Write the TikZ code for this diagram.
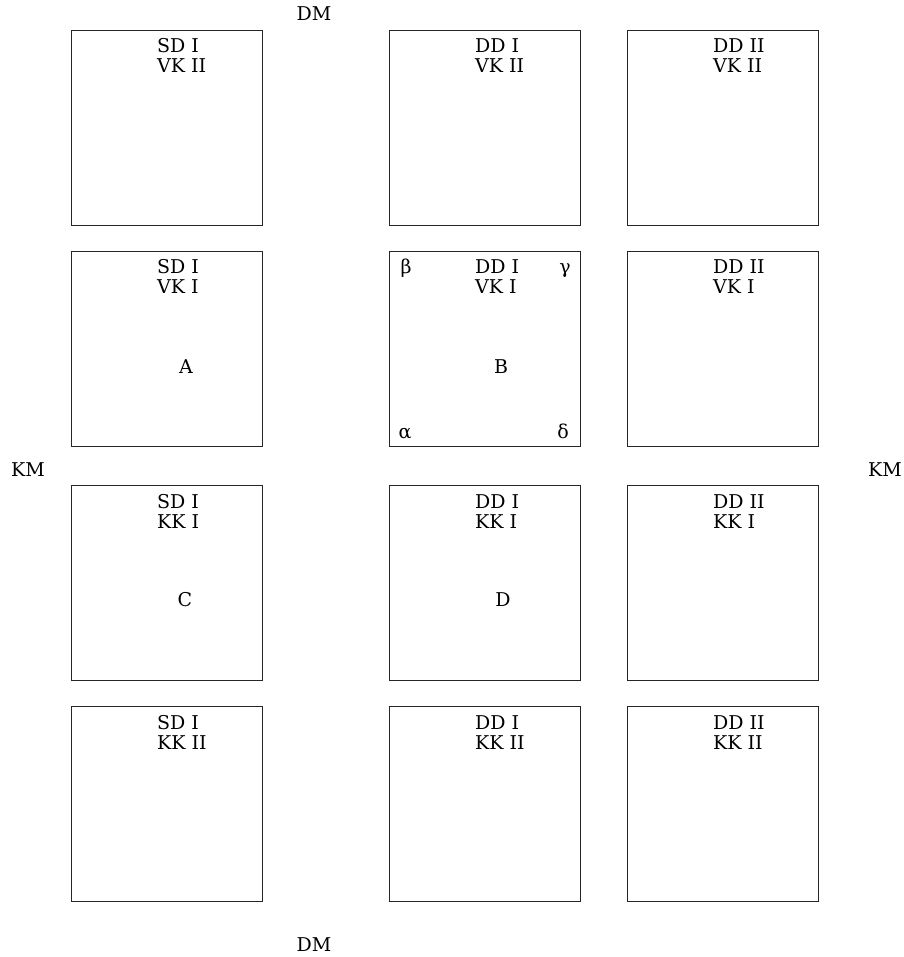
\documentclass[tikz,border=0pt]{standalone}
\usepackage{fontspec}
\setmainfont{DejaVu Serif}
\begin{document}
\begin{tikzpicture}[x=1pt,y=-1pt,
  cell/.style={draw=black!85,line width=1.1pt,minimum width=191pt,minimum height=195pt,inner sep=0pt,anchor=north west},
  lbl/.style={anchor=base west,inner sep=0pt,font=\fontsize{19}{20}\selectfont},
  ctr/.style={anchor=base,inner sep=0pt,font=\fontsize{19}{20}\selectfont},
  side/.style={anchor=base,inner sep=0pt,font=\fontsize{19}{20}\selectfont}]
\useasboundingbox (0,0) rectangle (903,957);
% boxes
\foreach \c/\x in {1/71,2/389,3/627}{
  \foreach \r/\y in {1/30,2/251,3/485,4/706}{
    \node[cell] (b\r\c) at (\x,\y) {};
  }
}
% labels
\foreach \c/\x/\top in {1/157/SD I,2/475/DD I,3/713/DD II}{
  \foreach \r/\y/\bot in {1/53/VK II,2/274/VK I,3/508/KK I,4/729/KK II}{
    \node[lbl] (t\r\c) at (\x,\y) {\top};
    \node[lbl] (u\r\c) at (\x,\y+20) {\bot};
  }
}
\node[ctr] (A) at (186,373) {A};
\node[ctr] (B) at (501,373) {B};
\node[ctr] (C) at (185,606) {C};
\node[ctr] (D) at (503,606) {D};
\node[ctr] (beta) at (406,273) {β};
\node[ctr] (gamma) at (565,273) {γ};
\node[ctr] (alpha) at (405,438) {α};
\node[ctr] (delta) at (563,438) {δ};
\node[side] (dmt) at (314,21) {DM};
\node[side] (dmb) at (314,951) {DM};
\node[side] (kml) at (28,476) {KM};
\node[side] (kmr) at (885,476) {KM};
\end{tikzpicture}
\end{document}
